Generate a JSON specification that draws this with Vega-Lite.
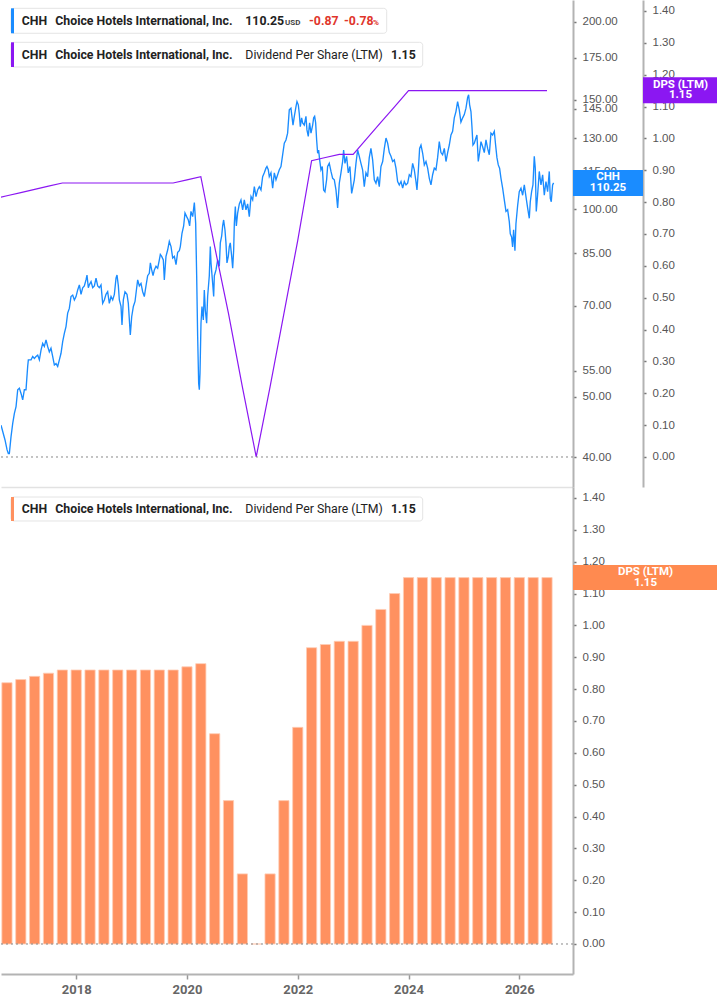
{
  "$schema": "https://vega.github.io/schema/vega-lite/v6.json",
  "padding": 0,
  "background": "white",
  "spacing": 0,
  "bounds": "flush",
  "config": {
    "view": {"stroke": null},
    "text": {"font": "Roboto", "fontSize": 12.3, "fontWeight": "bold", "baseline": "middle", "align": "left", "color": "#222222"},
    "axis": {"grid": false, "title": null, "labelFont": "Liberation Sans", "labelFontSize": 11.5, "labelColor": "#555555", "domainColor": "#b3b3b3", "domainWidth": 2, "tickColor": "#777777", "tickSize": 3, "tickWidth": 1.5, "labelPadding": 6, "labelOverlap": false, "labelBound": false}
  },
  "datasets": {
    "price": [
      {"year": 2016.643, "price": 45.0}, {"year": 2016.715, "price": 42.6}, {"year": 2016.751, "price": 41.1}, {"year": 2016.775, "price": 40.5},
      {"year": 2016.793, "price": 40.5}, {"year": 2016.823, "price": 43.1}, {"year": 2016.854, "price": 45.3}, {"year": 2016.884, "price": 47.0},
      {"year": 2016.914, "price": 48.2}, {"year": 2016.944, "price": 51.3}, {"year": 2016.974, "price": 51.6}, {"year": 2017.004, "price": 50.6},
      {"year": 2017.034, "price": 49.4}, {"year": 2017.064, "price": 51.3}, {"year": 2017.094, "price": 51.3}, {"year": 2017.124, "price": 55.9},
      {"year": 2017.136, "price": 57.3}, {"year": 2017.185, "price": 57.3}, {"year": 2017.215, "price": 58.0}, {"year": 2017.245, "price": 57.6},
      {"year": 2017.275, "price": 58.0}, {"year": 2017.305, "price": 58.3}, {"year": 2017.335, "price": 57.3}, {"year": 2017.365, "price": 59.4},
      {"year": 2017.395, "price": 60.9}, {"year": 2017.425, "price": 60.2}, {"year": 2017.455, "price": 61.7}, {"year": 2017.485, "price": 60.2},
      {"year": 2017.515, "price": 59.0}, {"year": 2017.545, "price": 59.8}, {"year": 2017.576, "price": 58.0}, {"year": 2017.606, "price": 56.2},
      {"year": 2017.636, "price": 56.5}, {"year": 2017.666, "price": 55.9}, {"year": 2017.696, "price": 57.3}, {"year": 2017.726, "price": 58.7},
      {"year": 2017.756, "price": 61.3}, {"year": 2017.786, "price": 63.2}, {"year": 2017.816, "price": 64.8}, {"year": 2017.846, "price": 68.1},
      {"year": 2017.876, "price": 69.3}, {"year": 2017.906, "price": 72.4}, {"year": 2017.937, "price": 72.8}, {"year": 2017.967, "price": 71.5},
      {"year": 2017.997, "price": 72.4}, {"year": 2018.027, "price": 74.2}, {"year": 2018.057, "price": 75.6}, {"year": 2018.087, "price": 73.0},
      {"year": 2018.117, "price": 74.8}, {"year": 2018.147, "price": 75.3}, {"year": 2018.177, "price": 77.0}, {"year": 2018.195, "price": 78.4},
      {"year": 2018.219, "price": 74.8}, {"year": 2018.237, "price": 75.6}, {"year": 2018.268, "price": 76.5}, {"year": 2018.298, "price": 74.8},
      {"year": 2018.328, "price": 75.3}, {"year": 2018.358, "price": 77.5}, {"year": 2018.388, "price": 75.3}, {"year": 2018.418, "price": 74.8},
      {"year": 2018.448, "price": 75.6}, {"year": 2018.478, "price": 70.6}, {"year": 2018.508, "price": 71.5}, {"year": 2018.538, "price": 73.0},
      {"year": 2018.568, "price": 73.7}, {"year": 2018.598, "price": 70.6}, {"year": 2018.629, "price": 72.4}, {"year": 2018.659, "price": 71.5},
      {"year": 2018.689, "price": 73.0}, {"year": 2018.719, "price": 77.5}, {"year": 2018.737, "price": 78.4}, {"year": 2018.761, "price": 75.3},
      {"year": 2018.779, "price": 71.5}, {"year": 2018.809, "price": 69.8}, {"year": 2018.827, "price": 65.2}, {"year": 2018.851, "price": 71.5},
      {"year": 2018.881, "price": 73.7}, {"year": 2018.917, "price": 73.0}, {"year": 2018.941, "price": 70.6}, {"year": 2018.977, "price": 62.8},
      {"year": 2019.002, "price": 67.2}, {"year": 2019.032, "price": 69.8}, {"year": 2019.062, "price": 71.1}, {"year": 2019.092, "price": 74.8},
      {"year": 2019.110, "price": 77.0}, {"year": 2019.140, "price": 75.3}, {"year": 2019.170, "price": 76.0}, {"year": 2019.200, "price": 73.7},
      {"year": 2019.230, "price": 72.4}, {"year": 2019.260, "price": 75.3}, {"year": 2019.290, "price": 78.2}, {"year": 2019.320, "price": 78.9},
      {"year": 2019.339, "price": 82.0}, {"year": 2019.363, "price": 79.9}, {"year": 2019.387, "price": 78.2}, {"year": 2019.411, "price": 79.9},
      {"year": 2019.441, "price": 81.0}, {"year": 2019.471, "price": 80.4}, {"year": 2019.501, "price": 82.9}, {"year": 2019.519, "price": 84.6},
      {"year": 2019.543, "price": 84.0}, {"year": 2019.573, "price": 82.9}, {"year": 2019.591, "price": 77.0}, {"year": 2019.621, "price": 84.0},
      {"year": 2019.651, "price": 86.0}, {"year": 2019.681, "price": 88.8}, {"year": 2019.712, "price": 87.1}, {"year": 2019.742, "price": 83.5},
      {"year": 2019.772, "price": 84.0}, {"year": 2019.802, "price": 81.5}, {"year": 2019.832, "price": 85.3}, {"year": 2019.862, "price": 85.8},
      {"year": 2019.880, "price": 87.1}, {"year": 2019.910, "price": 91.5}, {"year": 2019.940, "price": 94.0}, {"year": 2019.964, "price": 98.6},
      {"year": 2019.994, "price": 97.3}, {"year": 2020.024, "price": 96.1}, {"year": 2020.048, "price": 94.0}, {"year": 2020.072, "price": 99.2},
      {"year": 2020.103, "price": 97.3}, {"year": 2020.133, "price": 102.5}, {"year": 2020.157, "price": 94.9}, {"year": 2020.175, "price": 78.2},
      {"year": 2020.193, "price": 62.4}, {"year": 2020.211, "price": 52.5}, {"year": 2020.223, "price": 51.3}, {"year": 2020.235, "price": 54.5},
      {"year": 2020.253, "price": 65.6}, {"year": 2020.271, "price": 69.8}, {"year": 2020.295, "price": 66.4}, {"year": 2020.313, "price": 74.2},
      {"year": 2020.331, "price": 68.9}, {"year": 2020.355, "price": 65.6}, {"year": 2020.373, "price": 72.4}, {"year": 2020.403, "price": 78.2},
      {"year": 2020.421, "price": 87.1}, {"year": 2020.434, "price": 82.0}, {"year": 2020.464, "price": 76.0}, {"year": 2020.482, "price": 72.4},
      {"year": 2020.494, "price": 78.2}, {"year": 2020.524, "price": 79.9}, {"year": 2020.554, "price": 82.9}, {"year": 2020.584, "price": 81.0},
      {"year": 2020.602, "price": 88.3}, {"year": 2020.626, "price": 90.5}, {"year": 2020.644, "price": 94.0}, {"year": 2020.662, "price": 96.1},
      {"year": 2020.686, "price": 92.6}, {"year": 2020.704, "price": 88.3}, {"year": 2020.722, "price": 82.0}, {"year": 2020.746, "price": 84.0},
      {"year": 2020.764, "price": 87.1}, {"year": 2020.782, "price": 88.3}, {"year": 2020.807, "price": 84.0}, {"year": 2020.825, "price": 80.4},
      {"year": 2020.843, "price": 86.0}, {"year": 2020.855, "price": 94.9}, {"year": 2020.873, "price": 101.0}, {"year": 2020.891, "price": 94.0},
      {"year": 2020.915, "price": 98.6}, {"year": 2020.945, "price": 102.0}, {"year": 2020.975, "price": 103.5}, {"year": 2021.005, "price": 99.8},
      {"year": 2021.035, "price": 103.5}, {"year": 2021.065, "price": 99.8}, {"year": 2021.095, "price": 102.0}, {"year": 2021.125, "price": 97.3},
      {"year": 2021.156, "price": 104.8}, {"year": 2021.186, "price": 103.5}, {"year": 2021.216, "price": 108.7}, {"year": 2021.246, "price": 104.8},
      {"year": 2021.276, "price": 107.4}, {"year": 2021.306, "price": 108.7}, {"year": 2021.336, "price": 107.4}, {"year": 2021.366, "price": 112.8},
      {"year": 2021.396, "price": 114.4}, {"year": 2021.426, "price": 116.4}, {"year": 2021.444, "price": 117.1}, {"year": 2021.468, "price": 115.7},
      {"year": 2021.486, "price": 112.8}, {"year": 2021.516, "price": 114.4}, {"year": 2021.547, "price": 108.1}, {"year": 2021.577, "price": 114.4},
      {"year": 2021.607, "price": 111.5}, {"year": 2021.637, "price": 113.6}, {"year": 2021.667, "price": 115.7}, {"year": 2021.697, "price": 117.1},
      {"year": 2021.727, "price": 122.3}, {"year": 2021.757, "price": 127.7}, {"year": 2021.787, "price": 129.2}, {"year": 2021.817, "price": 132.5},
      {"year": 2021.847, "price": 144.4}, {"year": 2021.877, "price": 145.3}, {"year": 2021.895, "price": 141.0}, {"year": 2021.914, "price": 136.5},
      {"year": 2021.938, "price": 141.0}, {"year": 2021.968, "price": 146.2}, {"year": 2021.986, "price": 148.9}, {"year": 2022.010, "price": 147.1},
      {"year": 2022.028, "price": 142.3}, {"year": 2022.046, "price": 135.7}, {"year": 2022.070, "price": 140.2}, {"year": 2022.088, "price": 137.6},
      {"year": 2022.118, "price": 136.5}, {"year": 2022.148, "price": 141.0}, {"year": 2022.166, "price": 134.1}, {"year": 2022.190, "price": 130.9},
      {"year": 2022.214, "price": 137.6}, {"year": 2022.239, "price": 132.5}, {"year": 2022.269, "price": 136.5}, {"year": 2022.287, "price": 140.2},
      {"year": 2022.305, "price": 141.0}, {"year": 2022.323, "price": 137.6}, {"year": 2022.341, "price": 129.2}, {"year": 2022.359, "price": 123.0},
      {"year": 2022.377, "price": 124.5}, {"year": 2022.395, "price": 120.0}, {"year": 2022.419, "price": 115.7}, {"year": 2022.443, "price": 117.1},
      {"year": 2022.467, "price": 107.4}, {"year": 2022.491, "price": 106.7}, {"year": 2022.521, "price": 111.5}, {"year": 2022.539, "price": 117.1},
      {"year": 2022.569, "price": 118.5}, {"year": 2022.600, "price": 115.0}, {"year": 2022.630, "price": 112.1}, {"year": 2022.660, "price": 111.5},
      {"year": 2022.690, "price": 107.4}, {"year": 2022.720, "price": 100.5}, {"year": 2022.750, "price": 110.1}, {"year": 2022.780, "price": 114.4},
      {"year": 2022.810, "price": 119.3}, {"year": 2022.828, "price": 124.5}, {"year": 2022.852, "price": 118.5}, {"year": 2022.882, "price": 121.6},
      {"year": 2022.912, "price": 114.4}, {"year": 2022.942, "price": 117.1}, {"year": 2022.973, "price": 106.0}, {"year": 2022.997, "price": 108.7},
      {"year": 2023.021, "price": 111.5}, {"year": 2023.051, "price": 118.5}, {"year": 2023.081, "price": 124.5}, {"year": 2023.111, "price": 121.6},
      {"year": 2023.141, "price": 118.5}, {"year": 2023.171, "price": 115.7}, {"year": 2023.201, "price": 108.7}, {"year": 2023.231, "price": 114.4},
      {"year": 2023.261, "price": 112.8}, {"year": 2023.291, "price": 121.0}, {"year": 2023.321, "price": 125.2}, {"year": 2023.352, "price": 120.0},
      {"year": 2023.382, "price": 111.5}, {"year": 2023.412, "price": 110.1}, {"year": 2023.442, "price": 112.8}, {"year": 2023.472, "price": 108.7},
      {"year": 2023.502, "price": 117.1}, {"year": 2023.533, "price": 119.3}, {"year": 2023.563, "price": 125.2}, {"year": 2023.593, "price": 130.1},
      {"year": 2023.623, "price": 127.7}, {"year": 2023.653, "price": 123.3}, {"year": 2023.683, "price": 121.6}, {"year": 2023.713, "price": 119.3},
      {"year": 2023.743, "price": 120.0}, {"year": 2023.773, "price": 116.4}, {"year": 2023.803, "price": 110.8}, {"year": 2023.833, "price": 109.4},
      {"year": 2023.864, "price": 110.8}, {"year": 2023.894, "price": 108.1}, {"year": 2023.924, "price": 110.8}, {"year": 2023.954, "price": 109.4},
      {"year": 2023.984, "price": 110.1}, {"year": 2024.014, "price": 113.6}, {"year": 2024.044, "price": 112.8}, {"year": 2024.074, "price": 118.5},
      {"year": 2024.104, "price": 115.7}, {"year": 2024.134, "price": 110.8}, {"year": 2024.152, "price": 107.4}, {"year": 2024.176, "price": 115.0},
      {"year": 2024.200, "price": 125.2}, {"year": 2024.225, "price": 126.8}, {"year": 2024.255, "price": 123.0}, {"year": 2024.285, "price": 117.8},
      {"year": 2024.315, "price": 119.3}, {"year": 2024.345, "price": 116.4}, {"year": 2024.375, "price": 112.1}, {"year": 2024.405, "price": 109.4},
      {"year": 2024.435, "price": 113.6}, {"year": 2024.465, "price": 116.4}, {"year": 2024.495, "price": 115.7}, {"year": 2024.525, "price": 121.0},
      {"year": 2024.555, "price": 128.4}, {"year": 2024.585, "price": 123.3}, {"year": 2024.615, "price": 122.3}, {"year": 2024.646, "price": 125.2},
      {"year": 2024.676, "price": 119.3}, {"year": 2024.706, "price": 123.3}, {"year": 2024.736, "price": 126.8}, {"year": 2024.766, "price": 131.6},
      {"year": 2024.796, "price": 133.4}, {"year": 2024.826, "price": 140.2}, {"year": 2024.856, "price": 143.5}, {"year": 2024.886, "price": 148.9},
      {"year": 2024.916, "price": 144.4}, {"year": 2024.946, "price": 138.0}, {"year": 2024.977, "price": 140.2}, {"year": 2025.007, "price": 141.9},
      {"year": 2025.037, "price": 145.3}, {"year": 2025.067, "price": 151.2}, {"year": 2025.085, "price": 152.7}, {"year": 2025.103, "price": 147.1},
      {"year": 2025.127, "price": 143.5}, {"year": 2025.145, "price": 135.7}, {"year": 2025.163, "price": 126.8}, {"year": 2025.187, "price": 127.7},
      {"year": 2025.217, "price": 130.1}, {"year": 2025.235, "price": 131.6}, {"year": 2025.259, "price": 119.3}, {"year": 2025.283, "price": 123.3},
      {"year": 2025.308, "price": 128.4}, {"year": 2025.338, "price": 126.0}, {"year": 2025.368, "price": 123.3}, {"year": 2025.398, "price": 129.2},
      {"year": 2025.428, "price": 125.2}, {"year": 2025.458, "price": 122.3}, {"year": 2025.488, "price": 132.5}, {"year": 2025.518, "price": 131.6},
      {"year": 2025.548, "price": 133.4}, {"year": 2025.572, "price": 126.8}, {"year": 2025.596, "price": 121.0}, {"year": 2025.620, "price": 117.8},
      {"year": 2025.644, "price": 116.4}, {"year": 2025.669, "price": 112.1}, {"year": 2025.699, "price": 108.1}, {"year": 2025.729, "price": 103.5},
      {"year": 2025.759, "price": 99.2}, {"year": 2025.789, "price": 99.8}, {"year": 2025.819, "price": 95.5}, {"year": 2025.837, "price": 91.3},
      {"year": 2025.861, "price": 90.2}, {"year": 2025.879, "price": 87.0}, {"year": 2025.897, "price": 92.7}, {"year": 2025.921, "price": 85.8},
      {"year": 2025.939, "price": 94.7}, {"year": 2025.969, "price": 101.2}, {"year": 2025.999, "price": 106.7}, {"year": 2026.030, "price": 108.1},
      {"year": 2026.060, "price": 105.3}, {"year": 2026.090, "price": 109.4}, {"year": 2026.120, "price": 104.8}, {"year": 2026.150, "price": 100.5},
      {"year": 2026.180, "price": 96.7}, {"year": 2026.198, "price": 102.8}, {"year": 2026.222, "price": 106.7}, {"year": 2026.246, "price": 109.4},
      {"year": 2026.270, "price": 121.6}, {"year": 2026.288, "price": 116.4}, {"year": 2026.306, "price": 99.2}, {"year": 2026.330, "price": 105.3},
      {"year": 2026.360, "price": 115.0}, {"year": 2026.391, "price": 109.4}, {"year": 2026.421, "price": 113.6}, {"year": 2026.451, "price": 105.3},
      {"year": 2026.481, "price": 110.8}, {"year": 2026.511, "price": 106.7}, {"year": 2026.541, "price": 115.0}, {"year": 2026.559, "price": 104.1},
      {"year": 2026.577, "price": 102.8}, {"year": 2026.601, "price": 109.4}, {"year": 2026.619, "price": 110.25}
    ],
    "dps": [
      {"year": 2016.5, "dps": 0.81}, {"year": 2016.75, "dps": 0.82}, {"year": 2017.0, "dps": 0.83}, {"year": 2017.25, "dps": 0.84},
      {"year": 2017.5, "dps": 0.85}, {"year": 2017.75, "dps": 0.86}, {"year": 2018.0, "dps": 0.86}, {"year": 2018.25, "dps": 0.86},
      {"year": 2018.5, "dps": 0.86}, {"year": 2018.75, "dps": 0.86}, {"year": 2019.0, "dps": 0.86}, {"year": 2019.25, "dps": 0.86},
      {"year": 2019.5, "dps": 0.86}, {"year": 2019.75, "dps": 0.86}, {"year": 2020.0, "dps": 0.87}, {"year": 2020.25, "dps": 0.88},
      {"year": 2020.5, "dps": 0.66}, {"year": 2020.75, "dps": 0.45}, {"year": 2021.0, "dps": 0.22}, {"year": 2021.25, "dps": 0.0},
      {"year": 2021.5, "dps": 0.22}, {"year": 2021.75, "dps": 0.45}, {"year": 2022.0, "dps": 0.68}, {"year": 2022.25, "dps": 0.93},
      {"year": 2022.5, "dps": 0.94}, {"year": 2022.75, "dps": 0.95}, {"year": 2023.0, "dps": 0.95}, {"year": 2023.25, "dps": 1.0},
      {"year": 2023.5, "dps": 1.05}, {"year": 2023.75, "dps": 1.1}, {"year": 2024.0, "dps": 1.15}, {"year": 2024.25, "dps": 1.15},
      {"year": 2024.5, "dps": 1.15}, {"year": 2024.75, "dps": 1.15}, {"year": 2025.0, "dps": 1.15}, {"year": 2025.25, "dps": 1.15},
      {"year": 2025.5, "dps": 1.15}, {"year": 2025.75, "dps": 1.15}, {"year": 2026.0, "dps": 1.15}, {"year": 2026.25, "dps": 1.15},
      {"year": 2026.5, "dps": 1.15}
    ],
    "one": [{}]
  },
  "vconcat": [
    {
      "width": 572,
      "height": 487,
      "layer": [
        {
          "data": {"name": "price"},
          "mark": {"type": "line", "color": "#1a8cff", "strokeWidth": 1.35, "clip": true},
          "encoding": {
            "x": {"field": "year", "type": "quantitative", "scale": {"domain": [2016.6424, 2026.9692], "nice": false, "zero": false, "padding": 0},
                  "axis": {"labels": false, "ticks": false, "domainColor": "#e2e2e2", "domainWidth": 1.5}},
            "y": {"field": "price", "type": "quantitative", "scale": {"type": "log", "domain": [35.8, 216.78], "nice": false},
                  "axis": {"orient": "right", "values": [40, 50, 55, 70, 85, 100, 115, 130, 145, 150, 175, 200], "format": ".2f", "labelOverlap": false}}
          }
        },
        {
          "layer": [
            {
              "data": {"name": "dps"},
              "mark": {"type": "line", "color": "#8b17f2", "strokeWidth": 1.2, "clip": true},
              "encoding": {
                "x": {"field": "year", "type": "quantitative"},
                "y": {"field": "dps", "type": "quantitative", "scale": {"domain": [-0.0942, 1.4344], "nice": false, "zero": false},
                      "axis": {"orient": "right", "offset": 70, "values": [0, 0.1, 0.2, 0.3, 0.4, 0.5, 0.6, 0.7, 0.8, 0.9, 1.0, 1.1, 1.2, 1.3, 1.4], "format": ".2f", "labelOverlap": false, "tickCount": 15}}
              }
            },
            {
              "data": {"name": "one"},
              "mark": {"type": "rule", "color": "#888888", "strokeDash": [2, 3], "strokeWidth": 1},
              "encoding": {"y": {"datum": 0, "type": "quantitative"}}
            },
            {
              "data": {"name": "one"},
              "mark": {"type": "rect", "fill": "white", "stroke": "#e4e4e4", "strokeWidth": 1, "cornerRadius": 3},
              "encoding": {"x": {"datum": 2016.8229, "type": "quantitative"}, "x2": {"datum": 2023.6059}, "y": {"datum": 1.4083, "type": "quantitative"}, "y2": {"datum": 1.3299}}
            },
            {
              "data": {"name": "one"},
              "mark": {"type": "rect", "fill": "#1a8cff"},
              "encoding": {"x": {"datum": 2016.8229, "type": "quantitative"}, "x2": {"datum": 2016.8771}, "y": {"datum": 1.4083, "type": "quantitative"}, "y2": {"datum": 1.3299}}
            },
            {"data": {"name": "one"}, "mark": {"type": "text", "text": "CHH"},
             "encoding": {"x": {"datum": 2017.0161, "type": "quantitative"}, "y": {"datum": 1.3694, "type": "quantitative"}}},
            {"data": {"name": "one"}, "mark": {"type": "text", "text": "Choice Hotels International, Inc."},
             "encoding": {"x": {"datum": 2017.6227, "type": "quantitative"}, "y": {"datum": 1.3694, "type": "quantitative"}}},
            {"data": {"name": "one"}, "mark": {"type": "text", "text": "110.25"},
             "encoding": {"x": {"datum": 2021.0531, "type": "quantitative"}, "y": {"datum": 1.3694, "type": "quantitative"}}},
            {"data": {"name": "one"}, "mark": {"type": "text", "text": "USD", "fontSize": 8, "color": "#444444"},
             "encoding": {"x": {"datum": 2021.7698, "type": "quantitative"}, "y": {"datum": 1.3616, "type": "quantitative"}}},
            {"data": {"name": "one"}, "mark": {"type": "text", "text": "-0.87", "color": "#e0352b"},
             "encoding": {"x": {"datum": 2022.2031, "type": "quantitative"}, "y": {"datum": 1.3694, "type": "quantitative"}}},
            {"data": {"name": "one"}, "mark": {"type": "text", "text": "-0.78", "color": "#e0352b"},
             "encoding": {"x": {"datum": 2022.835, "type": "quantitative"}, "y": {"datum": 1.3694, "type": "quantitative"}}},
            {"data": {"name": "one"}, "mark": {"type": "text", "text": "%", "fontSize": 8, "color": "#e0352b"},
             "encoding": {"x": {"datum": 2023.3585, "type": "quantitative"}, "y": {"datum": 1.3616, "type": "quantitative"}}},
            {
              "data": {"name": "one"},
              "mark": {"type": "rect", "fill": "white", "stroke": "#e4e4e4", "strokeWidth": 1, "cornerRadius": 3},
              "encoding": {"x": {"datum": 2016.8229, "type": "quantitative"}, "x2": {"datum": 2024.2558}, "y": {"datum": 1.3016, "type": "quantitative"}, "y2": {"datum": 1.2241}}
            },
            {
              "data": {"name": "one"},
              "mark": {"type": "rect", "fill": "#8b17f2"},
              "encoding": {"x": {"datum": 2016.8229, "type": "quantitative"}, "x2": {"datum": 2016.8771}, "y": {"datum": 1.3016, "type": "quantitative"}, "y2": {"datum": 1.2241}}
            },
            {"data": {"name": "one"}, "mark": {"type": "text", "text": "CHH"},
             "encoding": {"x": {"datum": 2017.0161, "type": "quantitative"}, "y": {"datum": 1.2627, "type": "quantitative"}}},
            {"data": {"name": "one"}, "mark": {"type": "text", "text": "Choice Hotels International, Inc."},
             "encoding": {"x": {"datum": 2017.6227, "type": "quantitative"}, "y": {"datum": 1.2627, "type": "quantitative"}}},
            {"data": {"name": "one"}, "mark": {"type": "text", "text": "Dividend Per Share (LTM)", "fontWeight": "normal"},
             "encoding": {"x": {"datum": 2021.0531, "type": "quantitative"}, "y": {"datum": 1.2627, "type": "quantitative"}}},
            {"data": {"name": "one"}, "mark": {"type": "text", "text": "1.15"},
             "encoding": {"x": {"datum": 2023.6833, "type": "quantitative"}, "y": {"datum": 1.2627, "type": "quantitative"}}},
            {
              "data": {"name": "one"},
              "mark": {"type": "rect", "fill": "#1a8cff"},
              "encoding": {"x": {"datum": 2026.9692, "type": "quantitative"}, "x2": {"datum": 2028.233}, "y": {"datum": 0.9008, "type": "quantitative"}, "y2": {"datum": 0.8192}}
            },
            {"data": {"name": "one"}, "mark": {"type": "text", "text": "CHH", "align": "center", "color": "white", "fontSize": 11.5},
             "encoding": {"x": {"datum": 2027.6011, "type": "quantitative"}, "y": {"datum": 0.8798, "type": "quantitative"}}},
            {"data": {"name": "one"}, "mark": {"type": "text", "text": "110.25", "align": "center", "color": "white", "fontSize": 11.5},
             "encoding": {"x": {"datum": 2027.6011, "type": "quantitative"}, "y": {"datum": 0.8434, "type": "quantitative"}}},
            {
              "data": {"name": "one"},
              "mark": {"type": "rect", "fill": "#8b17f2"},
              "encoding": {"x": {"datum": 2028.233, "type": "quantitative"}, "x2": {"datum": 2029.587}, "y": {"datum": 1.1918, "type": "quantitative"}, "y2": {"datum": 1.1102}}
            },
            {"data": {"name": "one"}, "mark": {"type": "text", "text": "DPS (LTM)", "align": "center", "color": "white", "fontSize": 11.5},
             "encoding": {"x": {"datum": 2028.91, "type": "quantitative"}, "y": {"datum": 1.1686, "type": "quantitative"}}},
            {"data": {"name": "one"}, "mark": {"type": "text", "text": "1.15", "align": "center", "color": "white", "fontSize": 11.5},
             "encoding": {"x": {"datum": 2028.91, "type": "quantitative"}, "y": {"datum": 1.1362, "type": "quantitative"}}}
          ]
        }
      ],
      "resolve": {"scale": {"y": "independent"}}
    },
    {
      "width": 572,
      "height": 487,
      "layer": [
        {
          "data": {"name": "dps"},
          "mark": {"type": "bar", "color": "#ff9160", "size": 10.2, "stroke": "#ffcdb5", "strokeWidth": 0.8, "clip": true},
          "encoding": {
            "x": {"field": "year", "type": "quantitative", "scale": {"domain": [2016.6424, 2026.9692], "nice": false, "zero": false, "padding": 0},
                  "axis": {"values": [2018, 2020, 2022, 2024, 2026], "format": "d", "labelFont": "Roboto", "labelFontWeight": "bold", "labelFontSize": 13, "labelColor": "#666666", "tickSize": 5, "tickColor": "#999999", "labelPadding": 4}},
            "y": {"field": "dps", "type": "quantitative", "scale": {"domain": [-0.0942, 1.4344], "nice": false, "zero": false},
                  "axis": {"orient": "right", "values": [0, 0.1, 0.2, 0.3, 0.4, 0.5, 0.6, 0.7, 0.8, 0.9, 1.0, 1.1, 1.2, 1.3, 1.4], "format": ".2f", "labelOverlap": false, "tickCount": 15}}
          }
        },
        {
          "data": {"name": "one"},
          "mark": {"type": "rule", "color": "#888888", "strokeDash": [2, 3], "strokeWidth": 1},
          "encoding": {"y": {"datum": 0, "type": "quantitative"}}
        },
        {
          "data": {"name": "one"},
          "mark": {"type": "rect", "fill": "white", "stroke": "#e4e4e4", "strokeWidth": 1, "cornerRadius": 3},
          "encoding": {"x": {"datum": 2016.8229, "type": "quantitative"}, "x2": {"datum": 2024.2558}, "y": {"datum": 1.403, "type": "quantitative"}, "y2": {"datum": 1.3277}}
        },
        {
          "data": {"name": "one"},
          "mark": {"type": "rect", "fill": "#ff9160"},
          "encoding": {"x": {"datum": 2016.8229, "type": "quantitative"}, "x2": {"datum": 2016.8771}, "y": {"datum": 1.403, "type": "quantitative"}, "y2": {"datum": 1.3277}}
        },
        {"data": {"name": "one"}, "mark": {"type": "text", "text": "CHH"},
         "encoding": {"x": {"datum": 2017.0161, "type": "quantitative"}, "y": {"datum": 1.3654, "type": "quantitative"}}},
        {"data": {"name": "one"}, "mark": {"type": "text", "text": "Choice Hotels International, Inc."},
         "encoding": {"x": {"datum": 2017.6227, "type": "quantitative"}, "y": {"datum": 1.3654, "type": "quantitative"}}},
        {"data": {"name": "one"}, "mark": {"type": "text", "text": "Dividend Per Share (LTM)", "fontWeight": "normal"},
         "encoding": {"x": {"datum": 2021.0531, "type": "quantitative"}, "y": {"datum": 1.3654, "type": "quantitative"}}},
        {"data": {"name": "one"}, "mark": {"type": "text", "text": "1.15"},
         "encoding": {"x": {"datum": 2023.6833, "type": "quantitative"}, "y": {"datum": 1.3654, "type": "quantitative"}}},
        {
          "data": {"name": "one"},
          "mark": {"type": "rect", "fill": "#ff8a50"},
          "encoding": {"x": {"datum": 2026.9692, "type": "quantitative"}, "x2": {"datum": 2029.587}, "y": {"datum": 1.1896, "type": "quantitative"}, "y2": {"datum": 1.1111}}
        },
        {"data": {"name": "one"}, "mark": {"type": "text", "text": "DPS (LTM)", "align": "center", "color": "white", "fontSize": 11.5},
         "encoding": {"x": {"datum": 2028.2781, "type": "quantitative"}, "y": {"datum": 1.1667, "type": "quantitative"}}},
        {"data": {"name": "one"}, "mark": {"type": "text", "text": "1.15", "align": "center", "color": "white", "fontSize": 11.5},
         "encoding": {"x": {"datum": 2028.2781, "type": "quantitative"}, "y": {"datum": 1.1321, "type": "quantitative"}}}
      ]
    }
  ]
}
